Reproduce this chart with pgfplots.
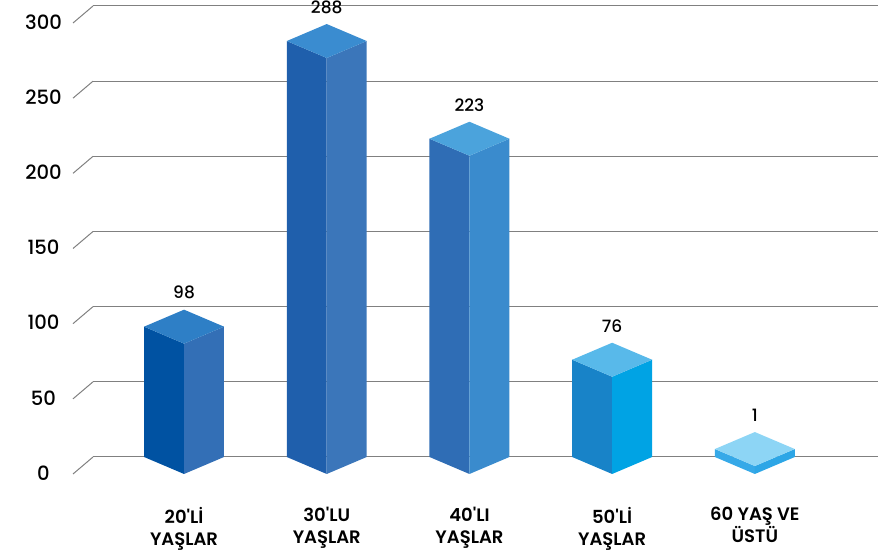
\documentclass[border=0pt]{standalone}
\usepackage{fontspec}
\setmainfont{Poppins}[BoldFont={Poppins SemiBold}]
\newfontfamily\med{Poppins Medium}
\usepackage{pgfplots}
\pgfplotsset{compat=1.18}
\usepackage{pgfplotstable}

\definecolor{gridc}{HTML}{808080}
% left face, right face, top face for each bar
\definecolor{L0}{HTML}{0052A2}\definecolor{R0}{HTML}{336FB6}\definecolor{T0}{HTML}{2E7FC6}
\definecolor{L1}{HTML}{1F5FAC}\definecolor{R1}{HTML}{3B76BA}\definecolor{T1}{HTML}{3A8CD0}
\definecolor{L2}{HTML}{2F6DB5}\definecolor{R2}{HTML}{3A8BCD}\definecolor{T2}{HTML}{4BA3DC}
\definecolor{L3}{HTML}{1883C8}\definecolor{R3}{HTML}{00A3E4}\definecolor{T3}{HTML}{58B9EA}
\definecolor{L4}{HTML}{36A9E8}\definecolor{R4}{HTML}{2DA6E6}\definecolor{T4}{HTML}{8DD5F5}

\pgfplotstableread{
i v
0 98
1 288
2 223
3 76
4 1
}\agedata

\begin{document}
\begin{tikzpicture}
\begin{axis}[
  name=ax,
  scale only axis, width=392.5pt, height=225.5pt,
  xmin=-0.638, xmax=4.863, ymin=0, ymax=300,
  clip=false,
  axis line style={draw=none},
  tick style={draw=none},
  ymajorgrids, major grid style={gridc, line width=0.5pt},
  ytick={0,50,...,300},
  /pgf/number format/assume math mode=true,
  yticklabel style={anchor=center, inner sep=0pt, xshift=-24.75pt, yshift=-8pt,
    font=\med\fontsize{9.8}{11}\selectfont},
  xtick={0,...,4},
  xticklabels={20\textquotesingle Lİ\\YAŞLAR, 30\textquotesingle LU\\YAŞLAR,
    40\textquotesingle LI\\YAŞLAR, 50\textquotesingle Lİ\\YAŞLAR, 60 YAŞ VE\\ÜSTÜ},
  xticklabel style={align=center, anchor=north, inner sep=0pt, yshift=-25pt,
    font=\bfseries\fontsize{9}{11}\selectfont},
  every node near coord/.style={anchor=south, inner sep=0pt, yshift=5pt,
    font=\med\fontsize{8.5}{10}\selectfont, text=black},
]
% slanted front part of the grid lines
\pgfplotsforeachungrouped \t in {0,50,...,300}{
  \pgfmathsetmacro\ya{\t-11.3}
  \edef\temp{\noexpand\addplot[gridc, line width=0.5pt] coordinates {(-0.778,\ya) (-0.638,\t)};}
  \temp
}
% 3d bars
\pgfplotsforeachungrouped \k in {0,...,4}{
  \pgfplotstablegetelem{\k}{v}\of\agedata
  \let\v\pgfplotsretval
  \pgfmathsetmacro\s{max(\v-11.3,5.3)}
  \pgfmathsetmacro\b{\s+11.3}
  \pgfmathsetmacro\f{\s-11.3}
  \pgfmathsetmacro\xl{\k-0.28}
  \pgfmathsetmacro\xr{\k+0.28}
  \edef\temp{%
    \noexpand\addplot[fill=L\k, draw=none] coordinates {(\xl,0) (\k,-11.3) (\k,\f) (\xl,\s)} -- cycle;
    \noexpand\addplot[fill=R\k, draw=none] coordinates {(\k,-11.3) (\xr,0) (\xr,\s) (\k,\f)} -- cycle;
    \noexpand\addplot[fill=T\k, draw=none] coordinates {(\xl,\s) (\k,\f) (\xr,\s) (\k,\b)} -- cycle;
    \noexpand\addplot[draw=none, mark=none, nodes near coords, point meta=explicit symbolic]
      coordinates {(\k,\b) [\v]};
  }
  \temp
}
\end{axis}
\pgfresetboundingbox
\path ([shift={(-46.5pt,-47pt)}]ax.south west) rectangle ([shift={(0pt,3pt)}]ax.north east);
\end{tikzpicture}
\end{document}
